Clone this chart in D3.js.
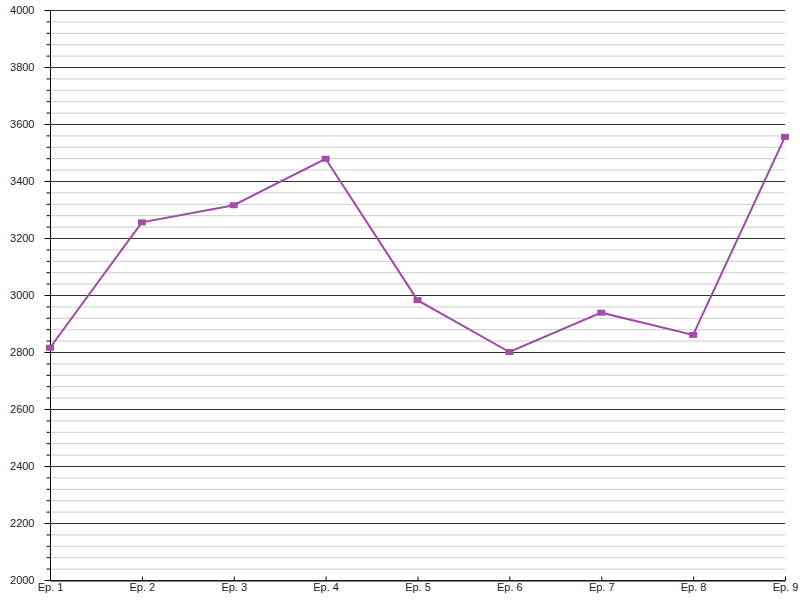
<!DOCTYPE html>
<html>
<head>
<meta charset="utf-8">
<script src="https://cdn.jsdelivr.net/npm/d3@7"></script>
<style>
body { margin: 0; background: #fff; }
text { font-family: "Liberation Sans", Arial, sans-serif; }
</style>
</head>
<body>
<svg id="chart" width="800" height="600"></svg>
<script>
var episodes = ["Ep. 1", "Ep. 2", "Ep. 3", "Ep. 4", "Ep. 5", "Ep. 6", "Ep. 7", "Ep. 8", "Ep. 9"];
var values = [2815, 3255, 3315, 3478, 2982, 2800, 2938, 2860, 3555];
var yTicks = [2000, 2200, 2400, 2600, 2800, 3000, 3200, 3400, 3600, 3800, 4000];

var svg = d3.select("#chart");
var margin = {top: 10, right: 15, bottom: 20, left: 50};
var width = 800 - margin.left - margin.right,
    height = 600 - margin.top - margin.bottom;

var g = svg.append("g").attr("transform", "translate(" + margin.left + "," + margin.top + ")");

var x = d3.scalePoint().domain(episodes).range([0, width]);
var y = d3.scaleLinear().domain([2000, 4000]).range([height, 0]);

// minor grid lines every 40
var minor = d3.range(2000, 4001, 40).filter(d => yTicks.indexOf(d) < 0);
g.append("g").selectAll("line").data(minor).enter().append("line")
  .attr("x1", 0).attr("x2", width)
  .attr("y1", d => y(d) + 0.5).attr("y2", d => y(d) + 0.5)
  .attr("stroke", "#cccccc").attr("stroke-width", 1);

// major grid
g.append("g").selectAll("line").data(yTicks).enter().append("line")
  .attr("x1", 0).attr("x2", width)
  .attr("y1", d => y(d) + 0.5).attr("y2", d => y(d) + 0.5)
  .attr("stroke", "#333").attr("stroke-width", 1);

// y axis with minor ticks
var yAxis = g.append("g").attr("transform", "translate(0.5,0)")
  .call(d3.axisLeft(y).tickValues(yTicks).tickSize(6).tickPadding(10).tickFormat(d3.format("d")));
yAxis.select(".domain").attr("d", "M0," + y(4000) + "V" + y(2000)).attr("stroke", "#000");
yAxis.selectAll("text").attr("font-size", 11).attr("fill", "#222").attr("dy", "0.32em");
g.append("g").selectAll("line").data(minor).enter().append("line")
  .attr("x1", -3.5).attr("x2", 0.5)
  .attr("y1", d => y(d) + 0.5).attr("y2", d => y(d) + 0.5)
  .attr("stroke", "#000");

// x axis
var xAxis = g.append("g").attr("transform", "translate(0," + (height + 0.5) + ")")
  .call(d3.axisBottom(x).tickSize(-4).tickSizeOuter(0).tickPadding(3));
xAxis.select(".domain").attr("stroke", "#000");
xAxis.selectAll(".tick line").attr("y1", -4).attr("y2", 0).attr("stroke", "#000");
xAxis.selectAll("text").attr("font-size", 11).attr("fill", "#222").attr("dy", "0.71em")
  .attr("y", 3);

// line
var line = d3.line().x((d, i) => x(episodes[i])).y(d => y(d));
g.append("path").datum(values)
  .attr("fill", "none").attr("stroke", "#9c4ba6").attr("stroke-width", 2)
  .attr("d", line);

// markers
g.selectAll(".pt").data(values).enter().append("rect")
  .attr("class", "pt")
  .attr("x", (d, i) => x(episodes[i]) - 4)
  .attr("y", d => y(d) - 3)
  .attr("width", 8).attr("height", 6)
  .attr("fill", "#a64ca6");
</script>
</body>
</html>
